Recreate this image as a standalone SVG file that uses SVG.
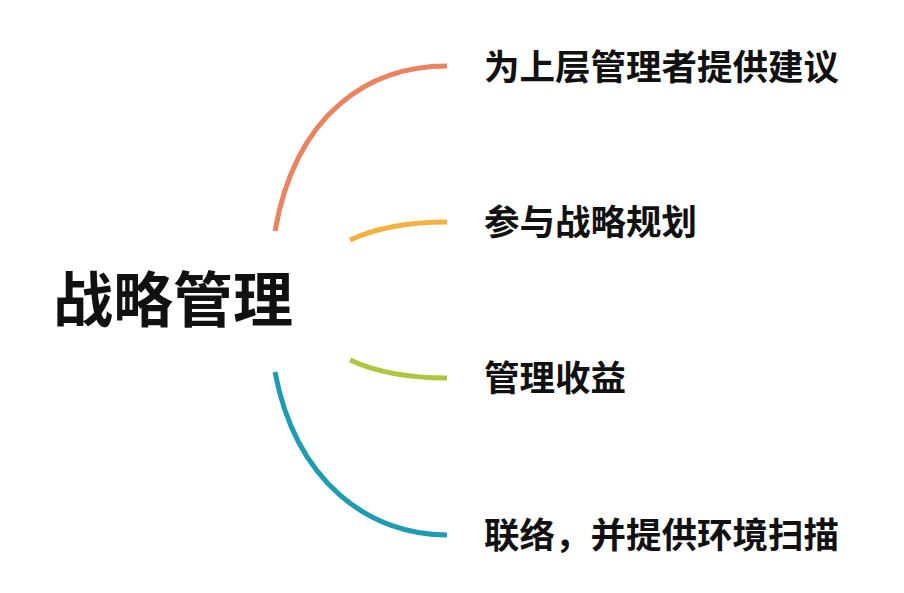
<svg xmlns="http://www.w3.org/2000/svg" width="904" height="593" viewBox="0 0 904 593">
<style>
.t{font-family:"Noto Sans CJK SC","Noto Sans",sans-serif;font-weight:bold;fill:#111;}
.s{font-size:35.5px;}
.c{fill:none;stroke-width:5;stroke-linecap:butt;}
</style>
<rect width="904" height="593" fill="#fff"/>
<g id="connectors">
<path class="c" stroke="#E9845F" d="M275,231 C296,112 370,66 447,66"/>
<path class="c" stroke="#F2B23E" d="M350,240 C378,227 410,222 447,222"/>
<path class="c" stroke="#AFC53B" d="M350,360 C378,373 410,378 447,378"/>
<path class="c" stroke="#1F9CB2" d="M275,372 C296,483 370,535 447,535"/>
</g>
<g id="root"><text class="t" x="53" y="322" font-size="60">战略管理</text></g>
<g id="n1"><text class="t s" x="484" y="80">为上层管理者提供建议</text></g>
<g id="n2"><text class="t s" x="484" y="235">参与战略规划</text></g>
<g id="n3"><text class="t s" x="484" y="391">管理收益</text></g>
<g id="n4"><text class="t s" x="484" y="548">联络，并提供环境扫描</text></g>
</svg>
